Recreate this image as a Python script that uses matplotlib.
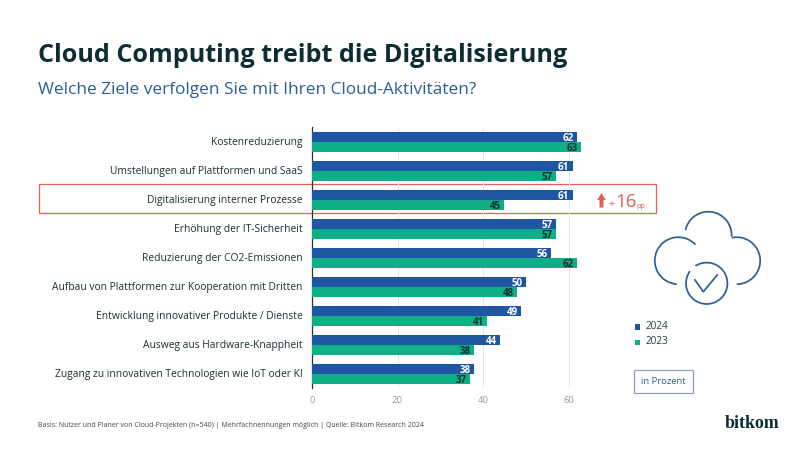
import matplotlib
matplotlib.use("Agg")
import matplotlib.pyplot as plt
from matplotlib.patches import Arc, Rectangle, FancyArrow
from matplotlib.transforms import ScaledTranslation

plt.rcParams['font.family'] = ['Open Sans', 'DejaVu Sans']

categories = ["Kostenreduzierung", "Umstellungen auf Plattformen und SaaS",
              "Digitalisierung interner Prozesse", "Erhöhung der IT-Sicherheit",
              "Reduzierung der CO2-Emissionen",
              "Aufbau von Plattformen zur Kooperation mit Dritten",
              "Entwicklung innovativer Produkte / Dienste",
              "Ausweg aus Hardware-Knappheit",
              "Zugang zu innovativen Technologien wie IoT oder KI"]
values_2024 = [62, 61, 61, 57, 56, 50, 49, 44, 38]
values_2023 = [63, 57, 45, 57, 62, 48, 41, 38, 37]
xticks = [0, 20, 40, 60]

BLUE = "#1f56a3"
GREEN = "#0fae86"
DARK = "#0c2e33"
TITLEBLUE = "#2a5f95"
RED = "#e2605a"
W, H = 800, 449

fig = plt.figure(figsize=(8, 4.49), dpi=100, facecolor="white")

# overlay in pixel space for decoration
ov = fig.add_axes([0, 0, 1, 1], zorder=0)
ov.set_xlim(0, W); ov.set_ylim(0, H); ov.axis("off")
Y = lambda p: H - p

# chart axes
x0, x60 = 312, 568.5
ppu = (x60 - x0) / 60
xmax = 72
top, bottom = 127, 388
ax = fig.add_axes([x0 / W, 1 - bottom / H, xmax * ppu / W, (bottom - top) / H], zorder=2)
ax.patch.set_alpha(0)
ax.set_xlim(0, xmax)
ax.set_ylim(8.483, -0.517)
bh = 0.36
pos = list(range(len(categories)))
ax.barh([p - bh / 2 for p in pos], values_2024, height=bh, color=BLUE, zorder=3)
ax.barh([p + bh / 2 for p in pos], values_2023, height=bh, color=GREEN, zorder=3)
for p, a, b in zip(pos, values_2024, values_2023):
    ax.text(a - 0.8, p - bh / 2, str(a), ha="right", va="center_baseline", color="white",
            fontsize=7.0, fontweight="bold", zorder=4)
    ax.text(b - 0.8, p + bh / 2, str(b), ha="right", va="center_baseline", color=DARK,
            fontsize=7.0, fontweight="bold", zorder=4)
for s in ["top", "right", "bottom"]:
    ax.spines[s].set_visible(False)
ax.spines["left"].set_color("#20333a")
ax.spines["left"].set_linewidth(0.9)
ax.set_xticks(xticks)
ax.tick_params(axis="x", length=0, labelsize=6.8, labelcolor="#9a9a9a", pad=6)
ax.set_yticks(pos)
ax.set_yticklabels(categories, fontsize=7.37, color="#1c2e33")
ax.tick_params(axis="y", length=0, pad=7)
up = ScaledTranslation(0, 1 / 100, fig.dpi_scale_trans)
for lab in ax.get_yticklabels():
    lab.set_transform(lab.get_transform() + up)
for t in xticks[1:]:
    ax.plot([t, t], [8.483, -0.517], color="#e6e6e6", lw=0.7, zorder=1)

# titles
ov.text(38, Y(55), "Cloud Computing treibt die Digitalisierung", fontsize=18.07,
        fontweight="bold", color=DARK, ha="left", va="center")
ov.text(38, Y(90), "Welche Ziele verfolgen Sie mit Ihren Cloud-Aktivitäten?", fontsize=12.46,
        color=TITLEBLUE, ha="left", va="center")

# highlight
ov.add_patch(Rectangle((38.5, Y(213)), 617, 29, fill=False, ec=RED, lw=0.9))
ov.add_patch(FancyArrow(601.5, Y(207.5), 0, 14.5, width=4, head_width=8.5, head_length=7,
                        length_includes_head=True, color=RED, lw=0))
ov.text(608.5, Y(207), "+", fontsize=7.5, color=RED, ha="left", va="baseline")
ov.text(615, Y(207), "16", fontsize=13.5, color=RED, ha="left", va="baseline")
ov.text(636.5, Y(208), "pp", fontsize=5.2, color=RED, ha="left", va="baseline")

# cloud icon
ic = dict(color="#2f5e93", lw=1.25)
def arc(cx, cy, r, t1, t2):
    ov.add_patch(Arc((cx, Y(cy)), 2 * r, 2 * r, theta1=t1, theta2=t2, **ic))
arc(708.3, 235, 23.3, -4, 168)
arc(678.3, 260.7, 23.5, 43, 266)
arc(736.7, 260.7, 23.5, -90, 102)
arc(706.7, 283.3, 20.7, 144, 483)
ov.plot([695, 703.3, 717.3], [Y(280), Y(291.7), Y(275)], **ic)

# legend
ov.add_patch(Rectangle((634.5, Y(329.5)), 5.5, 5.5, color=BLUE, lw=0))
ov.add_patch(Rectangle((634.5, Y(345)), 5.5, 5.5, color=GREEN, lw=0))
ov.text(645.5, Y(326.5), "2024", fontsize=7.2, color="#2b3a40", ha="left", va="center")
ov.text(645.5, Y(342), "2023", fontsize=7.2, color="#2b3a40", ha="left", va="center")

# unit box
ov.add_patch(Rectangle((634, Y(393)), 59, 23, fill=False, ec="#8c9fbd", lw=0.9))
ov.text(663.5, Y(381.5), "in Prozent", fontsize=6.8, color=TITLEBLUE, ha="center", va="center")

# footer
ov.text(38, Y(425.5), "Basis: Nutzer und Planer von Cloud-Projekten (n=540) | Mehrfachnennungen möglich | Quelle: Bitkom Research 2024",
        fontsize=5.03, color="#3c4a50", ha="left", va="center")
ov.text(725, Y(423), "bitkom", fontsize=12.9, color=DARK, family="Liberation Serif",
        fontweight="bold", ha="left", va="center")

fig.savefig("out.png", dpi=100, facecolor="white")
